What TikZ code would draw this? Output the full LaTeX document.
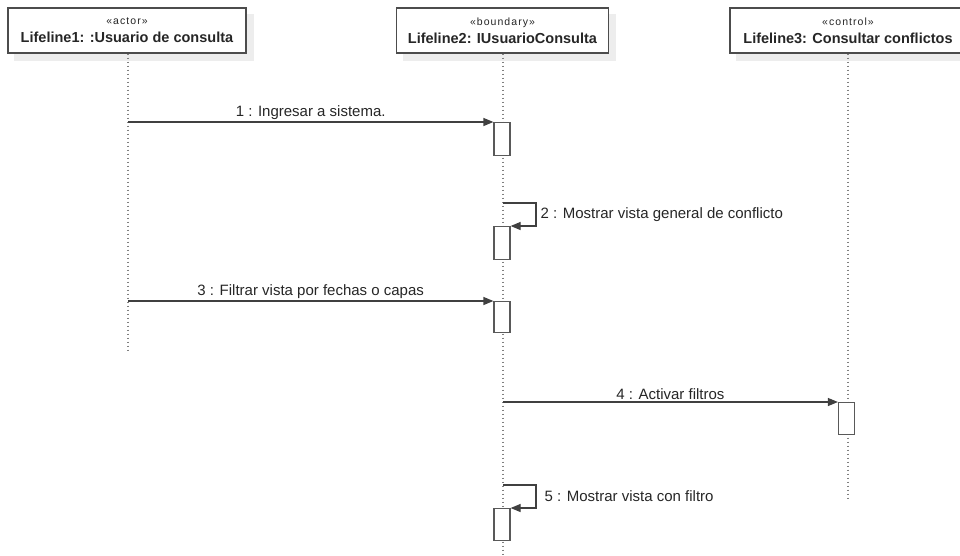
\documentclass[tikz,border=0pt]{standalone}
\usepackage{fontspec}
\setmainfont{Liberation Sans}
\newfontfamily\stereofont[LetterSpace=10]{Liberation Sans}
\usetikzlibrary{arrows.meta,backgrounds}
\newcommand\stereotxt[1]{{\stereofont\fontsize{10.5}{11}\selectfont #1}}
\begin{document}
\begin{tikzpicture}[x=1pt,y=-1pt,
  lifebox/.style={draw=black!70, line width=1.3pt, fill=white, minimum height=45pt, inner sep=0pt, align=center, font=\fontsize{14.5}{15}\selectfont, text=black!85},
  shadowfill/.style={fill=black!7, draw=none},
  act/.style={draw=black!65, line width=1.2pt, fill=white, minimum width=16pt, inner sep=0pt},
  lifeline/.style={black!50, line width=1.3pt, dash pattern=on 1.5pt off 2.5pt},
  msg/.style={black!75, line width=1.2pt, -{Triangle[length=10pt,width=8pt]}},
  lbl/.style={font=\fontsize{15}{16}\selectfont, text=black!85, inner sep=2pt}
]
\useasboundingbox (0,0) rectangle (960,555);

% lifeline heads
\node[lifebox, minimum width=238pt] (L1) at (127,30.5) {\stereotxt{«actor»}\\[3pt]\textbf{Lifeline1: :Usuario de consulta}};
\node[lifebox, minimum width=212pt] (L2) at (502.5,30.5) {\stereotxt{«boundary»}\\[3pt]\textbf{Lifeline2: IUsuarioConsulta}};
\node[lifebox, minimum width=236pt] (L3) at (848,30.5) {\stereotxt{«control»}\\[3pt]\textbf{Lifeline3: Consultar conflictos}};

\begin{scope}[on background layer]
  \foreach \b in {L1,L2,L3} {
    \fill[shadowfill] ([shift={(7,7)}]\b.north west) rectangle ([shift={(7,7)}]\b.south east);
  }
\end{scope}

% lifeline ends
\coordinate (E1) at (128,350);
\coordinate (E2) at (503,555);
\coordinate (E3) at (848,500);
\draw[lifeline] (L1.south -| E1) -- (E1);
\draw[lifeline] (L2.south -| E2) -- (E2);
\draw[lifeline] (L3.south -| E3) -- (E3);

% activations
\node[act, minimum height=33pt, anchor=north] (A1) at (502,122) {};
\node[act, minimum height=33pt, anchor=north] (A2) at (502,226) {};
\node[act, minimum height=31pt, anchor=north] (A3) at (502,301) {};
\node[act, minimum height=32pt, anchor=north] (A4) at (846.5,402) {};
\node[act, minimum height=32pt, anchor=north] (A5) at (502,508) {};

% message start points
\coordinate (S1) at (128,122);
\coordinate (S2) at (503,203);
\coordinate (S3) at (128,301);
\coordinate (S4) at (503,402);
\coordinate (S5) at (503,485);

\draw[msg] (S1) -- node[lbl, above] {1 : Ingresar a sistema.} (A1.north west);
\draw[msg] (S2) -- ++(33,0) |- node[lbl, anchor=west, pos=0.25, xshift=2pt] {2 : Mostrar vista general de conflicto} (A2.north east);
\draw[msg] (S3) -- node[lbl, above] {3 : Filtrar vista por fechas o capas} (A3.north west);
\draw[msg] (S4) -- node[lbl, above] {4 : Activar filtros} (A4.north west);
\draw[msg] (S5) -- ++(33,0) |- node[lbl, anchor=west, pos=0.25, xshift=6pt] {5 : Mostrar vista con filtro} (A5.north east);
\end{tikzpicture}
\end{document}
